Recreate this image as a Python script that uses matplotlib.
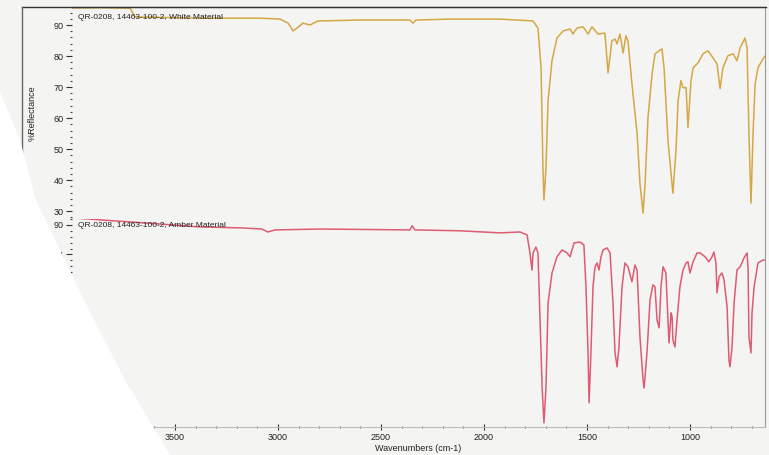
import numpy as np
import matplotlib.pyplot as plt
from matplotlib.patches import Polygon
from matplotlib.lines import Line2D
from matplotlib.ticker import MultipleLocator, FixedLocator

plt.rcParams['font.family'] = ['Liberation Sans', 'DejaVu Sans']

# White material spectrum (top), wavenumber cm-1 / %R
white_wn = [4000, 3850, 3718, 3694, 3378, 3087, 2990, 2951, 2927, 2908, 2879, 2845, 2806,
            2602, 2359, 2345, 2330, 2165, 1922, 1762, 1738, 1723, 1714, 1709, 1699, 1689,
            1670, 1646, 1616, 1582, 1568, 1549, 1519, 1495, 1476, 1447, 1413, 1398, 1379,
            1364, 1354, 1340, 1325, 1311, 1301, 1282, 1257, 1243, 1228, 1218, 1204, 1184,
            1170, 1150, 1136, 1126, 1107, 1083, 1068, 1058, 1044, 1034, 1019, 1010, 995,
            985, 961, 937, 913, 888, 869, 854, 840, 816, 791, 772, 757, 733, 723, 714,
            704, 694, 684, 670, 646, 627]
white_r = [95.5, 95.6, 95.4, 92.6, 92.2, 92.2, 91.9, 90.6, 88.1, 89.0, 90.6, 90.0, 91.3,
           91.6, 91.6, 90.6, 91.6, 91.9, 91.9, 91.3, 89.0, 76.2, 44.2, 33.6, 44.2, 65.6,
           78.5, 85.8, 88.1, 88.7, 87.1, 89.0, 89.4, 87.1, 89.4, 87.1, 87.4, 74.6, 84.9,
           85.5, 83.9, 87.1, 81.0, 86.5, 84.9, 71.1, 55.1, 39.0, 29.4, 39.0, 60.2, 74.3,
           80.7, 81.7, 82.3, 76.2, 52.8, 35.8, 49.6, 65.6, 72.1, 69.8, 69.8, 57.0, 72.1,
           76.2, 77.8, 80.7, 81.7, 79.4, 77.5, 69.5, 76.2, 80.1, 80.7, 78.5, 82.6, 85.8,
           82.6, 55.1, 32.6, 55.1, 71.1, 76.2, 79.1, 80.7]

# Amber material spectrum (bottom)
amber_wn = [4000, 3864, 3718, 3573, 3378, 3184, 3078, 3049, 3014, 2796, 2359, 2349, 2335,
            2116, 1922, 1825, 1791, 1777, 1767, 1762, 1748, 1738, 1728, 1718, 1709, 1699,
            1689, 1670, 1646, 1621, 1597, 1582, 1563, 1534, 1515, 1505, 1495, 1490, 1481,
            1471, 1461, 1451, 1442, 1432, 1422, 1403, 1388, 1374, 1364, 1354, 1345, 1330,
            1316, 1301, 1282, 1267, 1257, 1243, 1228, 1223, 1209, 1194, 1180, 1170, 1160,
            1150, 1141, 1131, 1117, 1107, 1102, 1092, 1087, 1083, 1073, 1063, 1049, 1034,
            1019, 1010, 1000, 985, 966, 951, 927, 908, 893, 884, 874, 869, 859, 845, 835,
            820, 811, 806, 796, 786, 772, 757, 748, 738, 723, 718, 714, 704, 699, 689,
            670, 646, 627]
amber_r = [92.4, 91.7, 91.0, 90.3, 89.3, 89.0, 88.6, 87.6, 88.3, 88.6, 88.3, 89.7, 88.3,
           88.0, 87.3, 87.6, 86.6, 80.5, 74.7, 80.5, 82.5, 80.5, 57.8, 35.1, 22.9, 35.1,
           63.6, 73.7, 79.2, 81.5, 80.5, 79.2, 83.9, 84.2, 83.2, 69.0, 46.6, 29.7, 46.6,
           69.0, 75.8, 77.1, 74.7, 79.2, 81.5, 82.2, 80.5, 63.6, 46.6, 41.9, 48.6, 69.0,
           77.1, 75.8, 70.7, 76.4, 74.7, 52.0, 37.5, 34.7, 46.6, 64.6, 69.7, 69.0, 57.8,
           55.1, 69.0, 75.8, 73.7, 57.8, 50.0, 60.2, 58.8, 51.0, 48.6, 57.8, 69.0, 74.7,
           77.1, 77.5, 73.7, 77.5, 80.5, 80.5, 79.2, 77.5, 79.2, 80.8, 77.1, 67.0, 72.4,
           73.7, 71.4, 62.2, 44.2, 41.9, 48.6, 63.6, 74.7, 75.8, 77.1, 78.8, 80.5, 74.7,
           52.0, 46.6, 60.2, 69.0, 77.1, 78.1, 78.1]

x_ticks = [3500, 3000, 2500, 2000, 1500, 1000]

W, H = 769, 455


def fx(px):
    return px / W


def fy(py):
    return 1 - py / H


fig = plt.figure(figsize=(W / 100, H / 100), dpi=100)
fig.patch.set_facecolor('#f4f4f2')

ax_top = fig.add_axes([fx(72), fy(219), fx(765) - fx(72), fy(7) - fy(219)])
ax_bot = fig.add_axes([fx(72), fy(427), fx(765) - fx(72), fy(219) - fy(427)], sharex=ax_top)

ax_top.plot(white_wn, white_r, color='#d5a745', lw=1.1)
ax_bot.plot(amber_wn, amber_r, color='#dd5c72', lw=1.1)

for ax in (ax_top, ax_bot):
    ax.set_facecolor('none')
    ax.spines['left'].set_visible(False)
    ax.spines['right'].set_color('#999999')
    ax.yaxis.set_minor_locator(MultipleLocator(2))
    ax.tick_params(axis='y', which='major', length=4, width=0.8, color='#333333',
                   labelsize=6.5, labelcolor='#222222', pad=2)
    ax.tick_params(axis='y', which='minor', length=1.5, width=0.8, color='#444444')

ax_top.spines['bottom'].set_visible(False)
ax_top.spines['top'].set_color('#333333')
ax_top.set_ylim(27.5, 95.8)
ax_top.yaxis.set_major_locator(MultipleLocator(10))
ax_top.tick_params(axis='x', which='both', bottom=False, labelbottom=False)
ax_top.set_ylabel('%Reflectance', fontsize=6.5, color='#222222')
ax_top.yaxis.set_label_coords(-0.051, 0.5)
ax_top.text(3970, 92.3, 'QR-0208, 14463-100-2, White Material', fontsize=6,
            color='#222222', va='center', ha='left')

ax_bot.spines['top'].set_visible(False)
ax_bot.spines['bottom'].set_color('#bbbbbb')
ax_bot.spines['bottom'].set_linewidth(0.8)
ax_bot.set_ylim(21.5, 92.0)
ax_bot.yaxis.set_major_locator(FixedLocator([90, 80]))
ax_bot.set_yticklabels(['90', '1'])
ax_bot.text(3970, 89.7, 'QR-0208, 14463-100-2, Amber Material', fontsize=6,
            color='#222222', va='center', ha='left')

ax_bot.set_xlim(4000, 636)
ax_bot.xaxis.set_major_locator(FixedLocator(x_ticks))
ax_bot.xaxis.set_minor_locator(MultipleLocator(100))
ax_bot.tick_params(axis='x', which='major', direction='inout', length=4, width=0.8,
                   color='#333333', labelsize=6.5, labelcolor='#222222', pad=2)
ax_bot.tick_params(axis='x', which='minor', direction='inout', length=2, width=0.8,
                   color='#555555')
ax_bot.set_xlabel('Wavenumbers (cm-1)', fontsize=6.5, color='#222222', labelpad=2)

# outer print frame
fig.add_artist(Line2D([fx(22), fx(766)], [fy(7), fy(7)], color='#333333', lw=1.0))
fig.add_artist(Line2D([fx(22), fx(22)], [fy(7), fy(455)], color='#666666', lw=1.0))

# white page edge of the scan
edge = [(0, 92), (20, 140), (36, 200), (84, 300), (125, 380), (170, 455), (0, 455)]
fig.add_artist(Polygon([(fx(a), fy(b)) for a, b in edge], closed=True,
                       facecolor='white', edgecolor='none', zorder=10))

fig.savefig('out.png', dpi=100, facecolor=fig.get_facecolor())
